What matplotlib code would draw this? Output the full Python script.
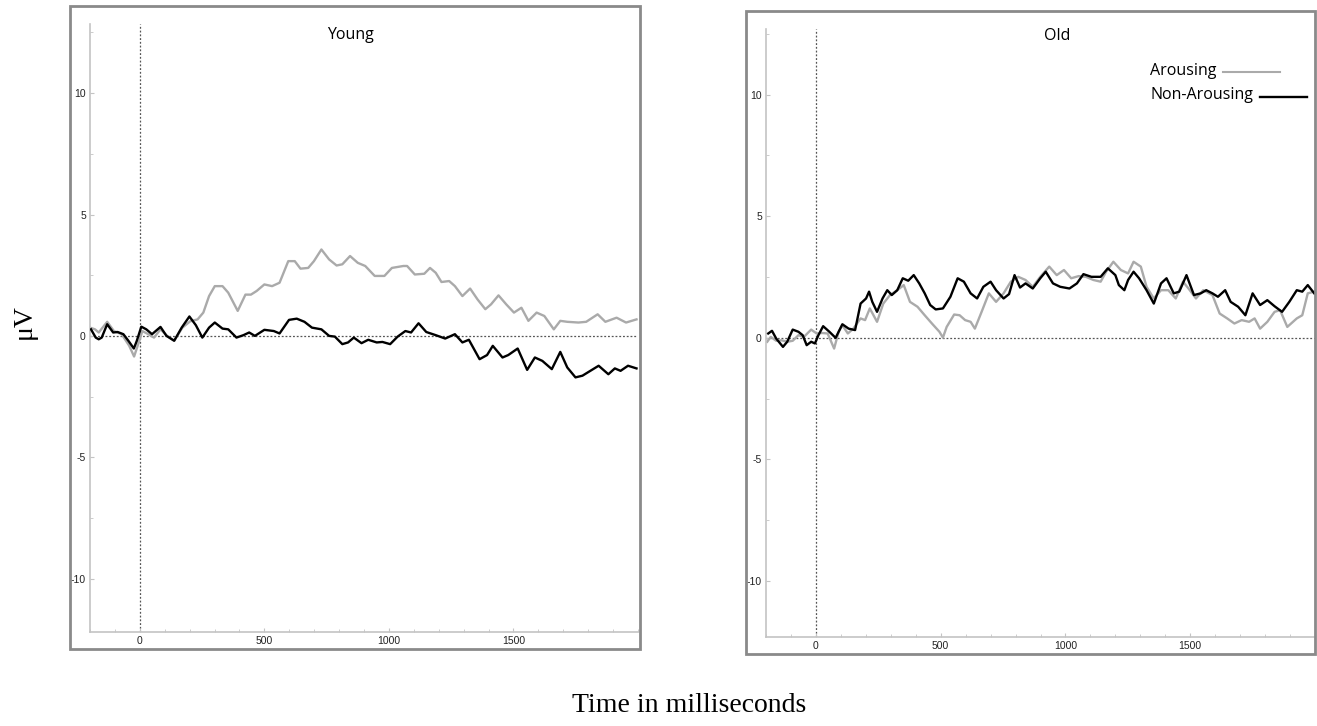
import matplotlib
matplotlib.use("Agg")
import matplotlib.pyplot as plt
from matplotlib.patches import Rectangle
from matplotlib.lines import Line2D
from matplotlib.ticker import MultipleLocator

plt.rcParams['axes.unicode_minus'] = False

# values (time in ms, amplitude in microvolts)
young_arousing_t = [-200, -180, -165, -131, -104, -73, -43, -23, 0, 10,
                    34, 57, 83, 110, 138, 171, 202, 232, 255, 278,
                    301, 332, 355, 393, 424, 446, 469, 500, 531, 561,
                    596, 622, 645, 676, 699, 729, 760, 790, 813, 844,
                    875, 905, 943, 982, 1012, 1058, 1073, 1104, 1142, 1165,
                    1188, 1211, 1242, 1265, 1295, 1326, 1356, 1387, 1410, 1440,
                    1471, 1502, 1532, 1560, 1593, 1624, 1662, 1688, 1716, 1761,
                    1792, 1838, 1869, 1914, 1952, 1994]
young_arousing = [0.34, 0.27, 0.14, 0.58, 0.2, 0.07, -0.4, -0.85, -0.14, 0.2,
                  0.07, -0.07, 0.27, 0, -0.2, 0.34, 0.6, 0.68, 0.96, 1.64,
                  2.05, 2.05, 1.78, 1.03, 1.7, 1.7, 1.85, 2.12, 2.05, 2.19,
                  3.08, 3.08, 2.77, 2.8, 3.08, 3.56, 3.15, 2.9, 2.95, 3.29,
                  3.01, 2.88, 2.47, 2.47, 2.8, 2.88, 2.88, 2.53, 2.56, 2.8,
                  2.6, 2.22, 2.26, 2.05, 1.64, 1.95, 1.5, 1.1, 1.3, 1.67,
                  1.3, 0.96, 1.16, 0.62, 0.96, 0.82, 0.27, 0.62, 0.58, 0.55,
                  0.58, 0.89, 0.58, 0.75, 0.55, 0.68]

young_non_t = [-196, -177, -165, -153, -131, -107, -89, -66, -46, -24,
               -12, 6, 26, 49, 83, 107, 138, 168, 199, 225,
               251, 278, 301, 332, 355, 388, 416, 439, 462, 500,
               538, 561, 599, 630, 661, 691, 729, 760, 783, 813,
               836, 859, 890, 917, 951, 974, 1005, 1035, 1066, 1089,
               1119, 1150, 1188, 1226, 1265, 1295, 1321, 1364, 1394, 1417,
               1456, 1479, 1517, 1555, 1586, 1616, 1654, 1688, 1716, 1749,
               1777, 1815, 1842, 1881, 1907, 1930, 1960, 1994]
young_non = [0.27, -0.07, -0.14, -0.07, 0.48, 0.14, 0.16, 0.07, -0.2, -0.52,
             -0.2, 0.38, 0.27, 0.07, 0.37, 0, -0.2, 0.34, 0.8, 0.44,
             -0.07, 0.34, 0.55, 0.3, 0.27, -0.07, 0.03, 0.14, 0, 0.25,
             0.2, 0.1, 0.66, 0.71, 0.58, 0.34, 0.27, 0, -0.03, -0.34,
             -0.27, -0.07, -0.3, -0.16, -0.27, -0.25, -0.34, -0.03, 0.2, 0.14,
             0.52, 0.16, 0.03, -0.11, 0.07, -0.27, -0.16, -0.96, -0.79, -0.41,
             -0.89, -0.79, -0.52, -1.4, -0.89, -1.03, -1.37, -0.66, -1.3, -1.71,
             -1.64, -1.4, -1.23, -1.58, -1.34, -1.44, -1.23, -1.34]

old_arousing_t = [-195, -181, -159, -137, -115, -93, -70, -48, -19, 3,
                  25, 47, 73, 91, 106, 128, 150, 179, 197, 216,
                  245, 270, 297, 326, 352, 377, 407, 436, 465, 495,
                  509, 524, 554, 576, 598, 620, 637, 664, 693, 722,
                  752, 781, 811, 840, 869, 899, 935, 965, 994, 1023,
                  1053, 1082, 1112, 1141, 1163, 1192, 1222, 1251, 1273, 1302,
                  1325, 1354, 1383, 1412, 1442, 1471, 1493, 1523, 1552, 1589,
                  1618, 1648, 1677, 1706, 1736, 1758, 1780, 1809, 1838, 1860,
                  1889, 1927, 1949, 1971, 1997]
old_arousing = [-0.16, 0.04, -0.12, -0.1, -0.16, -0.12, 0.11, 0.04, 0.34, 0.18,
                0.2, 0.18, -0.44, 0.25, 0.52, 0.18, 0.38, 0.8, 0.73, 1.21,
                0.66, 1.41, 1.76, 1.96, 2.17, 1.48, 1.28, 0.93, 0.59, 0.25,
                0.01, 0.45, 0.96, 0.93, 0.73, 0.66, 0.38, 1.07, 1.83, 1.48,
                1.83, 2.31, 2.51, 2.38, 2.1, 2.51, 2.93, 2.58, 2.79, 2.45,
                2.54, 2.51, 2.38, 2.31, 2.72, 3.13, 2.79, 2.65, 3.13, 2.93,
                2.1, 1.62, 1.96, 1.96, 1.62, 2.31, 2.03, 1.62, 1.96, 1.76,
                1.0, 0.8, 0.59, 0.73, 0.66, 0.8, 0.38, 0.66, 1.07, 1.14,
                0.45, 0.8, 0.93, 1.83, 1.9]

old_non_t = [-191, -176, -159, -132, -115, -93, -70, -53, -37, -19,
             -4, 10, 29, 54, 79, 106, 131, 157, 179, 201,
             213, 226, 245, 267, 286, 304, 326, 348, 370, 392,
             414, 436, 458, 480, 509, 539, 568, 593, 620, 646,
             671, 700, 722, 752, 774, 796, 818, 840, 869, 899,
             921, 950, 979, 1016, 1046, 1072, 1104, 1141, 1170, 1200,
             1214, 1236, 1251, 1273, 1295, 1325, 1354, 1383, 1405, 1434,
             1456, 1485, 1515, 1542, 1564, 1589, 1611, 1640, 1662, 1692,
             1721, 1750, 1780, 1809, 1838, 1868, 1897, 1927, 1949, 1971,
             1997]
old_non = [0.18, 0.29, -0.03, -0.37, -0.16, 0.34, 0.25, 0.11, -0.3, -0.16,
           -0.23, 0.11, 0.48, 0.25, 0, 0.56, 0.38, 0.32, 1.41, 1.62,
           1.9, 1.48, 1.07, 1.62, 1.96, 1.76, 1.96, 2.45, 2.35, 2.58,
           2.24, 1.83, 1.35, 1.17, 1.21, 1.69, 2.45, 2.31, 1.83, 1.62,
           2.1, 2.31, 1.96, 1.62, 1.8, 2.58, 2.07, 2.24, 2.03, 2.45,
           2.72, 2.24, 2.1, 2.03, 2.24, 2.62, 2.51, 2.51, 2.86, 2.58,
           2.17, 1.96, 2.38, 2.72, 2.45, 1.96, 1.41, 2.24, 2.45, 1.83,
           1.9, 2.58, 1.76, 1.83, 1.96, 1.83, 1.69, 1.96, 1.48, 1.28,
           0.93, 1.83, 1.35, 1.55, 1.3, 1.07, 1.48, 1.96, 1.9, 2.17,
           1.83]

x_ticks = [0, 500, 1000, 1500]
y_ticks = [-10, -5, 0, 5, 10]

W, H = 1317, 726
fig = plt.figure(figsize=(W / 100, H / 100), dpi=100)


def px_rect(x0, y0, x1, y1):
    # pixel box (y from top) -> figure fraction
    return [x0 / W, (H - y1) / H, (x1 - x0) / W, (y1 - y0) / H]


def draw_panel(rect, frame, ylim, title, title_xy,
               t_a, v_a, t_n, v_n):
    fig.add_artist(Rectangle((frame[0], frame[1]), frame[2], frame[3],
                             transform=fig.transFigure, fill=False,
                             edgecolor='#8a8a8a', lw=2))
    ax = fig.add_axes(rect)
    ax.axhline(0, color='#555555', lw=0.9, ls=(0, (1.5, 1.5)), zorder=1)
    ax.axvline(0, color='#555555', lw=0.9, ls=(0, (1.5, 1.5)), zorder=1)
    ax.plot(t_a, v_a, color='#aaaaaa', lw=1.7, zorder=2,
            solid_joinstyle='round')
    ax.plot(t_n, v_n, color='black', lw=1.7, zorder=3,
            solid_joinstyle='round')
    ax.set_xlim(-200, 2000)
    ax.set_ylim(*ylim)
    for s in ['top', 'right']:
        ax.spines[s].set_visible(False)
    for s in ['left', 'bottom']:
        ax.spines[s].set_color('#c4c4c4')
        ax.spines[s].set_linewidth(1.2)
    ax.set_xticks(x_ticks)
    ax.set_yticks(y_ticks)
    ax.xaxis.set_minor_locator(MultipleLocator(100))
    ax.yaxis.set_minor_locator(MultipleLocator(2.5))
    ax.tick_params(which='both', direction='in', color='#c4c4c4',
                   labelsize=7.5, labelcolor='#222222')
    ax.tick_params(which='major', length=3, pad=3)
    ax.tick_params(which='minor', length=2)
    for lab in ax.get_xticklabels() + ax.get_yticklabels():
        lab.set_family('Liberation Sans')
    ax.text(title_xy[0], title_xy[1], title, transform=ax.transAxes,
            ha='center', va='center', fontsize=11.5, family='Open Sans')
    return ax


ax1 = draw_panel(px_rect(90, 24, 638, 632), px_rect(70, 6, 640, 649),
                 (-12.2, 12.85), 'Young', (0.475, 0.982),
                 young_arousing_t, young_arousing, young_non_t, young_non)
ax2 = draw_panel(px_rect(766, 29, 1315, 637), px_rect(746, 11, 1315, 654),
                 (-12.3, 12.7), 'Old', (0.53, 0.988),
                 old_arousing_t, old_arousing, old_non_t, old_non)

# legend drawn by hand: label followed by its line
ax2.text(0.6995, 0.931, 'Arousing', transform=ax2.transAxes,
         ha='left', va='center', fontsize=11.5, family='Open Sans')
ax2.add_line(Line2D([0.8324, 0.9362], [0.929, 0.929], transform=ax2.transAxes,
                    color='#aaaaaa', lw=1.5))
ax2.text(0.6995, 0.891, 'Non-Arousing', transform=ax2.transAxes,
         ha='left', va='center', fontsize=11.5, family='Open Sans')
ax2.add_line(Line2D([0.8998, 0.9854], [0.888, 0.888], transform=ax2.transAxes,
                    color='black', lw=1.7))

fig.text(24 / W, 1 - 322 / H, 'μV', rotation=90, ha='center', va='center',
         fontsize=20, family='Liberation Serif')
fig.text(689 / W, 1 - 706 / H, 'Time in milliseconds', ha='center',
         va='center', fontsize=20, family='Liberation Serif')

fig.savefig('out.png', dpi=100)
